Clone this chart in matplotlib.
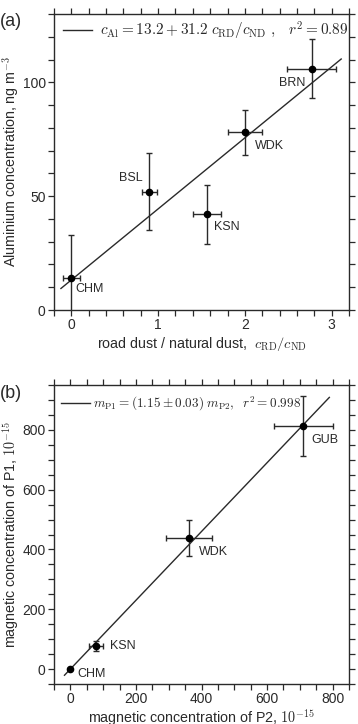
import matplotlib
matplotlib.use("Agg")
import matplotlib.pyplot as plt
from matplotlib.ticker import MultipleLocator

plt.rcParams['font.family'] = ['Liberation Sans', 'DejaVu Sans']
plt.rcParams['mathtext.fontset'] = 'cm'

# Panel (a) data
a_sites = ["CHM", "BSL", "KSN", "WDK", "BRN"]
a_x = [0.0, 0.9, 1.56, 2.0, 2.77]
a_y = [14, 52, 42, 78, 106]
a_xerr = [0.1, 0.09, 0.16, 0.2, 0.28]
a_yerr = [19, 17, 13, 10, 13]
a_fit = (13.2, 31.2)
a_fit_range = [-0.12, 3.11]

# Panel (b) data
b_sites = ["CHM", "KSN", "WDK", "GUB"]
b_x = [0, 79, 361, 711]
b_y = [0, 77, 438, 813]
b_xerr = [0, 21, 70, 91]
b_yerr = [0, 18, 60, 101]
b_slope = 1.15
b_fit_range = [-18, 790]

C = '#2a2a2a'
FS = 10
LFS = 10.3

fig = plt.figure(figsize=(3.58, 7.24), dpi=100)
axa = fig.add_axes([54/358, 1-310/724, 295/358, 296/724])
axb = fig.add_axes([54/358, 1-684/724, 295/358, 299/724])

def style(ax):
    for s in ax.spines.values():
        s.set_color(C)
        s.set_linewidth(1.0)
    ax.tick_params(which='both', direction='out', length=4, width=0.9, color=C,
                   top=True, right=True, labelsize=FS, labelcolor=C, pad=2)

def label_points(ax, sites, xs, ys, offs):
    for s, x, y in zip(sites, xs, ys):
        dx, dy, ha = offs[s]
        ax.annotate(s, (x, y), xytext=(dx, dy), textcoords='offset pixels',
                    ha=ha, va='center', fontsize=9, color=C)

# ---- (a)
style(axa)
axa.set_xlim(-0.2, 3.2)
axa.set_ylim(0, 130)
axa.xaxis.set_major_locator(MultipleLocator(1))
axa.xaxis.set_minor_locator(MultipleLocator(0.2))
axa.yaxis.set_major_locator(MultipleLocator(50))
axa.yaxis.set_minor_locator(MultipleLocator(10))
axa.errorbar(a_x, a_y, xerr=a_xerr, yerr=a_yerr, fmt='o', ms=4.5, color='black',
             ecolor=C, elinewidth=1.0, capsize=2.5, capthick=1.0, zorder=3)
fx = a_fit_range
axa.plot(fx, [a_fit[0] + a_fit[1]*v for v in fx], color=C, lw=1.0,
         label=r'$c_{\rm Al} = 13.2 + 31.2\; c_{\rm RD}/c_{\rm ND}\ ,\;\;\; r^2 = 0.89$')
label_points(axa, a_sites, a_x, a_y,
             {"CHM": (4, -11, 'left'), "BSL": (-7, 14, 'right'),
              "KSN": (7, -13, 'left'), "WDK": (10, -14, 'left'),
              "BRN": (-6, -14, 'right')})
leg = axa.legend(loc='center left', frameon=False, fontsize=11, handlelength=1.9,
                 handletextpad=0.5, borderaxespad=0, borderpad=0,
                 bbox_to_anchor=(0.03, 0.9436))
for t in leg.get_texts():
    t.set_color(C)
axa.set_ylabel(r'Aluminium concentration, ng m$^{-3}$', fontsize=LFS, color=C)
axa.yaxis.set_label_coords(-0.112, 0.5)
axa.set_xlabel(r'road dust / natural dust,  $c_{\rm RD}/c_{\rm ND}$', fontsize=LFS, color=C, labelpad=2)
fig.text(0.0, 1-22/724, '(a)', fontsize=13, color=C, va='center', ha='left')

# ---- (b)
style(axb)
axb.set_xlim(-50, 850)
axb.set_ylim(-50, 950)
axb.xaxis.set_major_locator(MultipleLocator(200))
axb.xaxis.set_minor_locator(MultipleLocator(50))
axb.yaxis.set_major_locator(MultipleLocator(200))
axb.yaxis.set_minor_locator(MultipleLocator(50))
axb.errorbar(b_x, b_y, xerr=b_xerr, yerr=b_yerr, fmt='o', ms=4.5, color='black',
             ecolor=C, elinewidth=1.0, capsize=2.5, capthick=1.0, zorder=3)
fx = b_fit_range
axb.plot(fx, [b_slope*v for v in fx], color=C, lw=1.0,
         label=r'$m_{\rm P1} = (1.15 \pm 0.03)\; m_{\rm P2},\;\; r^2 = 0.998$')
label_points(axb, b_sites, b_x, b_y,
             {"CHM": (7, -5, 'left'), "KSN": (14, 0, 'left'),
              "WDK": (10, -14, 'left'), "GUB": (8, -14, 'left')})
leg = axb.legend(loc='center left', frameon=False, fontsize=9.5, handlelength=2.2,
                 handletextpad=0.25, borderaxespad=0, borderpad=0,
                 bbox_to_anchor=(0.024, 0.9365))
for t in leg.get_texts():
    t.set_color(C)
axb.set_ylabel(r'magnetic concentration of P1, $10^{-15}$', fontsize=LFS, color=C)
axb.yaxis.set_label_coords(-0.112, 0.5)
axb.set_xlabel(r'magnetic concentration of P2, $10^{-15}$', fontsize=LFS, color=C, labelpad=1)
fig.text(0.0, 1-393/724, '(b)', fontsize=13, color=C, va='center', ha='left')

fig.savefig('out.png', dpi=100)
